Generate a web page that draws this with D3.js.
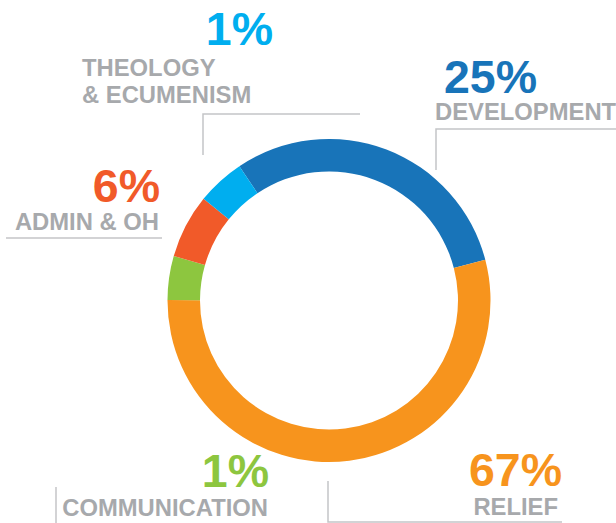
<!DOCTYPE html>
<html>
<head>
<meta charset="utf-8">
<script src="https://cdn.jsdelivr.net/npm/d3@7"></script>
<style>
  html, body { margin: 0; padding: 0; background: #fff; }
  svg { display: block; }
</style>
</head>
<body>
<svg id="chart" width="616" height="523"></svg>
<script>
// Categories in clockwise order, starting from the top of the ring
const categories = ['DEVELOPMENT', 'RELIEF', 'COMMUNICATION', 'ADMIN & OH', 'THEOLOGY & ECUMENISM'];
// Percentages printed next to each segment
const labelPercents = [25, 67, 1, 6, 1];
// Share of the ring each segment actually takes up in the picture (not the printed value)
const arcShares = [30.3, 54.1, 4.4, 6.4, 4.8];
const colors = ['#1874b9', '#f7941d', '#8dc63f', '#f15a29', '#00aeef'];

// Label layout: where each percent / name sits and the shape of its leader line
const labelLayout = [
  { pct: { x: 444, y: 93, anchor: 'start' }, name: { x: 435, y: 120, anchor: 'start' },
    leader: [[436, 170], [436, 129], [616, 129]] },
  { pct: { x: 562, y: 486, anchor: 'end' }, name: { x: 558, y: 515, anchor: 'end' },
    leader: [[328, 481], [328, 522], [562, 522]] },
  { pct: { x: 269, y: 487, anchor: 'end' }, name: { x: 268, y: 516, anchor: 'end' },
    leader: [[56, 487], [56, 530]] },
  { pct: { x: 160, y: 202, anchor: 'end' }, name: { x: 159, y: 230, anchor: 'end' },
    leader: [[6, 238], [162, 238]] },
  { pct: { x: 273, y: 45, anchor: 'end' }, name: { x: 82, y: 76, anchor: 'start', lines: ['THEOLOGY', '& ECUMENISM'] },
    leader: [[203, 155], [203, 114], [360, 114]] }
];

const center = { x: 329, y: 300.5 };
const outerRadius = 161.5;
const innerRadius = 129;
const startDeg = -33.7;

const svg = d3.select('#chart').style('font-family', '"Liberation Sans", Arial, Helvetica, sans-serif');

const pie = d3.pie()
  .sort(null)
  .value(d => d)
  .startAngle(startDeg * Math.PI / 180)
  .endAngle((startDeg + 360) * Math.PI / 180);

const arc = d3.arc().innerRadius(innerRadius).outerRadius(outerRadius);

// Leader lines first so text sits on top
const line = d3.line();
svg.append('g')
  .attr('class', 'leaders')
  .selectAll('path')
  .data(labelLayout)
  .join('path')
  .attr('d', d => line(d.leader))
  .attr('fill', 'none')
  .attr('stroke', '#c4c5c7')
  .attr('stroke-width', 1.5);

svg.append('g')
  .attr('class', 'ring')
  .attr('transform', `translate(${center.x}, ${center.y})`)
  .selectAll('path')
  .data(pie(arcShares))
  .join('path')
  .attr('d', arc)
  .attr('fill', (d, i) => colors[i]);

const labels = svg.append('g').attr('class', 'labels')
  .selectAll('g')
  .data(categories)
  .join('g');

labels.append('text')
  .attr('x', (d, i) => labelLayout[i].pct.x)
  .attr('y', (d, i) => labelLayout[i].pct.y)
  .attr('text-anchor', (d, i) => labelLayout[i].pct.anchor)
  .attr('font-size', 46.5)
  .attr('font-weight', 'bold')
  .attr('fill', (d, i) => colors[i])
  .text((d, i) => d3.format('d')(labelPercents[i]) + '%');

labels.append('text')
  .attr('x', (d, i) => labelLayout[i].name.x)
  .attr('y', (d, i) => labelLayout[i].name.y)
  .attr('text-anchor', (d, i) => labelLayout[i].name.anchor)
  .attr('font-size', 23.8)
  .attr('font-weight', 'bold')
  .attr('fill', '#a7a9ac')
  .each(function(d, i) {
    const lines = labelLayout[i].name.lines || [d];
    d3.select(this).selectAll('tspan')
      .data(lines)
      .join('tspan')
      .attr('x', labelLayout[i].name.x)
      .attr('dy', (t, j) => j === 0 ? 0 : 27)
      .text(t => t);
  });
</script>
</body>
</html>
